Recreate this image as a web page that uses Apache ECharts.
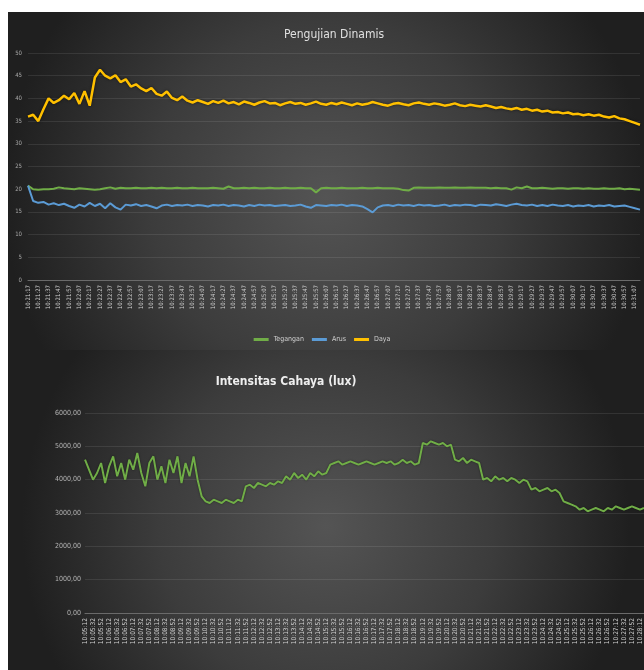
<!DOCTYPE html>
<html>
<head>
<meta charset="utf-8">
<script src="https://cdn.jsdelivr.net/npm/echarts@6/dist/echarts.min.js"></script>
<style>
  html, body { margin: 0; padding: 0; background: #ffffff; }
  #chart { width: 644px; height: 670px; }
</style>
</head>
<body>
<div id="chart"></div>
<script>
// ---- Pengujian Dinamis: tegangan, arus, daya ----
const tegangan = [
  20.8, 20.0, 19.9, 20.0, 20.0, 20.1, 20.4, 20.2, 20.1, 20.0, 20.2, 20.1, 20.0, 19.9, 20.0, 20.2, 20.4, 20.1, 20.3, 20.2,
  20.2, 20.3, 20.2, 20.2, 20.3, 20.2, 20.3, 20.2, 20.2, 20.3, 20.2, 20.2, 20.3, 20.2, 20.2, 20.2, 20.3, 20.2, 20.1, 20.6,
  20.2, 20.2, 20.3, 20.2, 20.3, 20.2, 20.2, 20.3, 20.2, 20.2, 20.3, 20.2, 20.2, 20.3, 20.2, 20.2, 19.3, 20.2, 20.3, 20.2,
  20.2, 20.3, 20.2, 20.2, 20.2, 20.3, 20.2, 20.2, 20.3, 20.2, 20.2, 20.2, 20.1, 19.8, 19.7, 20.3, 20.4, 20.3, 20.3, 20.3,
  20.4, 20.3, 20.3, 20.4, 20.3, 20.3, 20.4, 20.3, 20.3, 20.3, 20.2, 20.3, 20.2, 20.2, 19.9, 20.4, 20.2, 20.6, 20.2, 20.2,
  20.3, 20.2, 20.1, 20.2, 20.2, 20.1, 20.2, 20.2, 20.1, 20.2, 20.1, 20.1, 20.2, 20.1, 20.1, 20.2, 20.0, 20.1, 20.0, 19.9
];
const arus = [
  20.8, 17.4, 17.0, 17.2, 16.6, 16.9, 16.5, 16.8, 16.3, 15.9, 16.6, 16.2, 17.0, 16.3, 16.8, 15.8, 16.9, 16.0, 15.5, 16.6,
  16.4, 16.7, 16.3, 16.5, 16.2, 15.8, 16.4, 16.6, 16.3, 16.5, 16.4, 16.6, 16.3, 16.5, 16.4, 16.2, 16.5, 16.4, 16.6, 16.3,
  16.5, 16.4, 16.2, 16.5, 16.3, 16.6, 16.4, 16.5, 16.3, 16.4, 16.5, 16.3, 16.4, 16.6, 16.2, 15.9, 16.5, 16.4, 16.3, 16.5,
  16.4, 16.6, 16.3, 16.5, 16.4, 16.2, 15.6, 14.9, 16.0, 16.4, 16.5, 16.3, 16.6, 16.4, 16.5, 16.3, 16.6, 16.4, 16.5, 16.3,
  16.4, 16.6, 16.3, 16.5, 16.4, 16.6, 16.5, 16.3, 16.6, 16.5, 16.4, 16.7, 16.5, 16.3, 16.6, 16.8, 16.5, 16.4, 16.6, 16.3,
  16.5, 16.3, 16.6, 16.4, 16.3, 16.5, 16.2, 16.4, 16.3, 16.5, 16.2, 16.4, 16.3, 16.5, 16.2, 16.3, 16.4, 16.1, 15.8, 15.5
];
const daya = [
  36.0, 36.4, 35.0, 37.6, 40.0, 39.0, 39.6, 40.6, 39.8, 41.2, 38.8, 41.6, 38.4,
  44.6, 46.3, 45.0, 44.4, 45.1, 43.6, 44.2, 42.6, 43.1, 42.2, 41.6, 42.3, 41.0, 40.6, 41.5, 40.1, 39.6, 40.4, 39.5, 39.1,
  39.6, 39.2, 38.8, 39.4, 39.0, 39.5, 38.9, 39.2, 38.7, 39.3, 39.0, 38.6, 39.1, 39.4, 38.9, 39.0, 38.5, 38.9, 39.2, 38.8,
  39.0, 38.6, 38.9, 39.3, 38.8, 38.6, 39.0,
  38.7, 39.1, 38.8, 38.5, 38.9, 38.6, 38.8, 39.2, 38.9, 38.6, 38.4, 38.8, 39.0, 38.7, 38.5, 38.9, 39.1, 38.8, 38.6, 38.9,
  38.7, 38.4, 38.6, 38.9, 38.5, 38.3, 38.6, 38.4, 38.2, 38.5,
  38.2, 37.9, 38.1, 37.8, 37.6, 37.9, 37.5, 37.7, 37.3, 37.5, 37.1, 37.3, 36.9, 37.0, 36.7, 36.9, 36.5, 36.6, 36.3, 36.5,
  36.2, 36.4, 36.0, 35.8, 36.1, 35.6, 35.4, 35.0, 34.6, 34.2
];

// ---- Intensitas Cahaya (lux) ----
const intensitas = [
  4600, 4300, 4000,
  4200, 4500, 3900, 4400, 4700, 4100, 4500, 4000, 4600, 4300, 4800, 4200, 3800, 4500, 4700, 4000, 4400, 3900, 4600, 4200,
  4700, 3900, 4500, 4100, 4700, 4000,
  3500,
  3350, 3300, 3400, 3350, 3300, 3400, 3350, 3300, 3400, 3350,
  3800, 3850, 3750, 3900, 3850, 3800, 3900, 3850, 3950, 3900,
  4100, 4000, 4200, 4050, 4150, 4000, 4200, 4100, 4250, 4150, 4200,
  4450, 4500, 4550, 4450, 4500, 4550, 4500, 4450, 4500, 4550, 4500, 4450, 4500, 4550, 4500, 4550, 4450, 4500, 4600, 4500,
  4550, 4450, 4500,
  5100, 5050, 5150, 5100, 5050, 5100, 5000, 5050,
  4600, 4550, 4650, 4500, 4600, 4550, 4500,
  4000, 4050, 3950, 4100, 4000, 4050, 3950, 4050, 4000, 3900, 4000, 3950,
  3700, 3750, 3650, 3700, 3750, 3650, 3700, 3600,
  3350, 3300, 3250, 3200,
  3100, 3150, 3050, 3100, 3150, 3100, 3050, 3150, 3100, 3200, 3150, 3100, 3150, 3200, 3150, 3100, 3150
];

// Axis settings
const dinamisYTicks = { min: 0, max: 50, interval: 5 };
const luxYTicks = { min: 0, max: 6000, interval: 1000 };

// Sample time stamps (HH:MM:SS) for the category axes
function timeLabels(count, startSec, stepSec) {
  const out = [];
  for (let i = 0; i < count; i++) {
    const t = startSec + i * stepSec;
    const h = Math.floor(t / 3600), m = Math.floor((t % 3600) / 60), s = t % 60;
    out.push(String(h).padStart(2, '0') + ':' + String(m).padStart(2, '0') + ':' + String(s).padStart(2, '0'));
  }
  return out;
}
const waktuDinamis = timeLabels(tegangan.length, 10 * 3600 + 21 * 60 + 17, 5);
const waktuLux = timeLabels(intensitas.length, 10 * 3600 + 5 * 60 + 12, 10);

const narrow = "'Liberation Sans Narrow','DejaVu Sans Condensed','Open Sans',sans-serif";

function cardFill() {
  return {
    type: 'radial', x: 0.5, y: 0.55, r: 0.95,
    colorStops: [
      { offset: 0, color: '#545454' },
      { offset: 0.55, color: '#3c3c3c' },
      { offset: 1, color: '#1f1f1f' }
    ]
  };
}

const chart = echarts.init(document.getElementById('chart'), null, { renderer: 'canvas' });

const xLabelStyle = {
  rotate: 90, fontSize: 6, color: '#cfcfcf', interval: 1, margin: 5,
  fontFamily: narrow
};

chart.setOption({
  animation: false,
  backgroundColor: '#ffffff',
  graphic: [
    { type: 'rect', z: -10, shape: { x: 8, y: 12, width: 636, height: 338 }, style: { fill: cardFill() } },
    { type: 'rect', z: -10, shape: { x: 8, y: 350, width: 636, height: 320 }, style: { fill: cardFill() } }
  ],
  title: [
    {
      text: 'Pengujian Dinamis', left: 329, top: 24, textAlign: 'center',
      textStyle: { color: '#e0e0e0', fontSize: 12, fontWeight: 'normal', fontFamily: narrow }
    },
    {
      text: 'Intensitas Cahaya (lux)', left: 281, top: 371, textAlign: 'center',
      textStyle: { color: '#eeeeee', fontSize: 12, fontWeight: 'bold', fontFamily: narrow }
    }
  ],
  legend: {
    data: ['Tegangan', 'Arus', 'Daya'],
    left: 'center', top: 331,
    icon: 'rect', itemWidth: 15, itemHeight: 3, itemGap: 8,
    textStyle: { color: '#cfcfcf', fontSize: 7, fontFamily: narrow }
  },
  grid: [
    { left: 28, right: 4, top: 53, height: 227 },
    { left: 85, right: 0, top: 413, height: 200 }
  ],
  xAxis: [
    {
      type: 'category', gridIndex: 0, data: waktuDinamis, boundaryGap: false,
      axisLine: { lineStyle: { color: '#6a6a6a' } }, axisTick: { show: false },
      axisLabel: xLabelStyle
    },
    {
      type: 'category', gridIndex: 1, data: waktuLux, boundaryGap: false,
      axisLine: { lineStyle: { color: '#6a6a6a' } }, axisTick: { show: false },
      axisLabel: Object.assign({}, xLabelStyle, { fontSize: 6.5 })
    }
  ],
  yAxis: [
    {
      type: 'value', gridIndex: 0,
      min: dinamisYTicks.min, max: dinamisYTicks.max, interval: dinamisYTicks.interval,
      axisLine: { show: false }, axisTick: { show: false },
      splitLine: { lineStyle: { color: 'rgba(255,255,255,0.09)' } },
      axisLabel: { color: '#a8a8a8', fontSize: 6, margin: 6, fontFamily: narrow }
    },
    {
      type: 'value', gridIndex: 1,
      min: luxYTicks.min, max: luxYTicks.max, interval: luxYTicks.interval,
      axisLine: { show: false }, axisTick: { show: false },
      splitLine: { lineStyle: { color: 'rgba(255,255,255,0.09)' } },
      axisLabel: {
        color: '#b4b4b4', fontSize: 7, margin: 4, fontFamily: narrow,
        formatter: v => v.toFixed(2).replace('.', ',')
      }
    }
  ],
  series: [
    {
      name: 'Tegangan', type: 'line', xAxisIndex: 0, yAxisIndex: 0, data: tegangan,
      showSymbol: false, lineStyle: { color: '#70ad47', width: 2 }, itemStyle: { color: '#70ad47' }
    },
    {
      name: 'Arus', type: 'line', xAxisIndex: 0, yAxisIndex: 0, data: arus,
      showSymbol: false, lineStyle: { color: '#5b9bd5', width: 2 }, itemStyle: { color: '#5b9bd5' }
    },
    {
      name: 'Daya', type: 'line', xAxisIndex: 0, yAxisIndex: 0, data: daya,
      showSymbol: false,
      lineStyle: { color: '#ffc000', width: 2.5, shadowColor: 'rgba(0,0,0,0.6)', shadowBlur: 3 },
      itemStyle: { color: '#ffc000' }
    },
    {
      name: 'Intensitas', type: 'line', xAxisIndex: 1, yAxisIndex: 1, data: intensitas,
      showSymbol: false,
      lineStyle: { color: '#70ad47', width: 2, shadowColor: 'rgba(0,0,0,0.5)', shadowBlur: 2 },
      itemStyle: { color: '#70ad47' }
    }
  ]
});
</script>
</body>
</html>
